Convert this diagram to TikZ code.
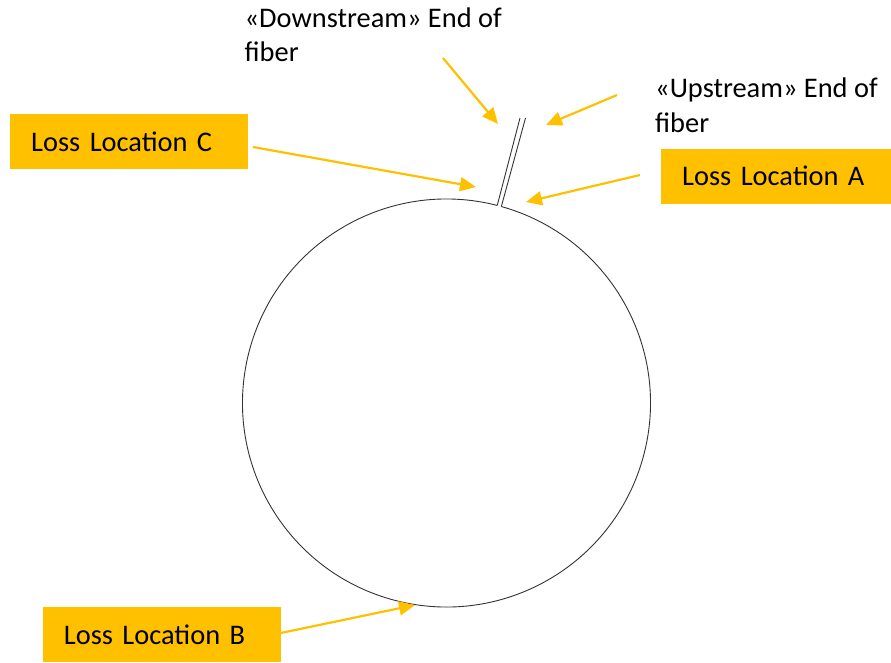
\documentclass[tikz,border=0pt]{standalone}
\usepackage{fontspec}
\setmainfont{Carlito}
\usetikzlibrary{arrows.meta}
\definecolor{gold}{HTML}{FFC000}
\definecolor{ink}{HTML}{333333}
\tikzset{
  lbl/.style={font=\fontsize{28.4pt}{34.5pt}\selectfont, inner sep=0pt, align=left},
  lossbox/.style={fill=gold, font=\fontsize{28.4pt}{34.5pt}\selectfont, inner xsep=21pt, inner ysep=0pt, minimum height=55pt, align=left, anchor=north west},
  pointer/.style={draw=gold, line width=2.2pt, -{Triangle[length=16pt,width=14pt]}},
  thin/.style={draw=ink, line width=0.9pt}
}
\begin{document}
\begin{tikzpicture}[x=1pt,y=-1pt]
\useasboundingbox (0,0) rectangle (891,662);
% ring with a gap at the fiber ends
\coordinate (ctr) at (446.5,403);
\draw[thin] ([shift={(-75.6:204)}]ctr) coordinate (gapL) arc[start angle=-75.6, end angle=-434.4, radius=204] coordinate (gapR);
% fiber ends
\coordinate (fL) at (520,118);
\coordinate (fR) at (525.5,118);
\draw[thin] (gapL) -- (fL);
\draw[thin] (gapR) -- (fR);
% labels (anchored on the baseline of the last line)
\node[lbl, anchor=base west] (down) at (244.5,61.5) {«Downstream» End of\\fiber};
\node[lbl, anchor=base west] (up) at (655,132) {«Upstream» End of\\fiber};
\node[lossbox, text width=196pt] (C) at (10,114) {Loss Location C};
\node[lossbox, text width=188pt] (A) at (661,148.3) {Loss Location A};
\node[lossbox, text width=196pt] (B) at (42.7,606.7) {Loss Location B};
% arrow ends
\coordinate (dS) at (443,58);   \coordinate (dT) at (498,124);
\coordinate (uS) at (617,95);   \coordinate (uT) at (546,125);
\coordinate (cS) at (253,147);  \coordinate (cT) at (476,187);
\coordinate (aS) at (640,175);  \coordinate (aT) at (526,202);
\coordinate (bS) at (280.7,633); \coordinate (bT) at (415,605);
\draw[pointer] (dS) -- (dT);
\draw[pointer] (uS) -- (uT);
\draw[pointer] (cS) -- (cT);
\draw[pointer] (aS) -- (aT);
\draw[pointer] (bS) -- (bT);
\end{tikzpicture}
\end{document}
